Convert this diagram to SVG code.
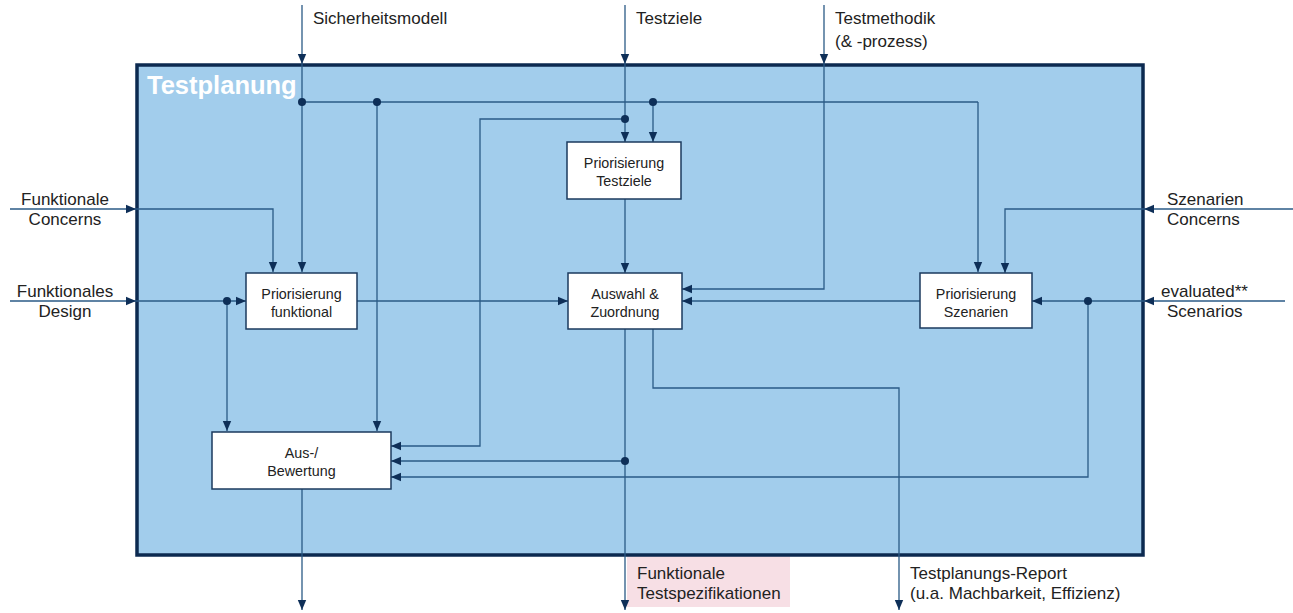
<svg xmlns="http://www.w3.org/2000/svg" width="1293" height="613" viewBox="0 0 1293 613">
  <defs>
    <marker id="arr" markerUnits="userSpaceOnUse" markerWidth="10" markerHeight="10" viewBox="0 0 10 10" refX="10" refY="5" orient="auto">
      <path d="M0,0.8 L10,5 L0,9.2 Z" fill="#0e2f58"/>
    </marker>
    <style>
      .lbl { font-family: "Liberation Sans", Arial, sans-serif; font-size: 17px; fill: #222; }
      .box { fill: #ffffff; stroke: #1b3a5e; stroke-width: 1.5; }
      .btxt { font-family: "Liberation Sans", Arial, sans-serif; font-size: 14.3px; fill: #222; text-anchor: middle; }
      .c { fill: none; stroke: #2a5a86; stroke-width: 1.3; }
      .ca { fill: none; stroke: #2a5a86; stroke-width: 1.3; marker-end: url(#arr); }
      .dot { fill: #0e2f58; }
    </style>
  </defs>

  <!-- output label background -->
  <rect x="627" y="556" width="163" height="51" fill="#f7dfe5"/>

  <!-- main process frame -->
  <g id="testplanung">
    <rect x="137" y="65" width="1006" height="490" fill="#a2cdec" stroke="#0c2a50" stroke-width="3.5"/>
    <text x="147" y="94" font-family="Liberation Sans, Arial, sans-serif" font-weight="bold" font-size="25.5" fill="#ffffff">Testplanung</text>
  </g>

  <g id="connectors">
    <!-- external inputs from top -->
    <path class="ca" d="M302,5 V64"/>
    <path class="ca" d="M302,64 V272"/>
    <path class="c" d="M302,102 H978"/>
    <path class="ca" d="M978,102 V272"/>
    <path class="ca" d="M377,102 V431"/>
    <path class="ca" d="M653,102 V142"/>

    <path class="ca" d="M625,5 V64"/>
    <path class="ca" d="M625,64 V142"/>
    <path class="ca" d="M625,119 H480 V446 H391"/>

    <path class="ca" d="M824,5 V64"/>
    <path class="ca" d="M824,64 V289 H682"/>

    <path class="ca" d="M625,199 V273"/>

    <!-- left inputs -->
    <path class="ca" d="M10,209 H136"/>
    <path class="ca" d="M136,209 H273 V272"/>
    <path class="ca" d="M10,301 H136"/>
    <path class="ca" d="M136,301 H246"/>
    <path class="ca" d="M227,301 V431"/>

    <path class="ca" d="M357,301 H568"/>
    <path class="ca" d="M920,301 H682"/>

    <!-- right inputs -->
    <path class="ca" d="M1293,209 H1144"/>
    <path class="ca" d="M1144,209 H1005 V273"/>
    <path class="ca" d="M1285,301 H1144"/>
    <path class="ca" d="M1144,301 H1032"/>
    <path class="ca" d="M1088,301 V477 H391"/>

    <!-- outputs -->
    <path class="ca" d="M625,329 V610"/>
    <path class="ca" d="M625,461 H391"/>
    <path class="ca" d="M653,329 V388 H899 V610"/>
    <path class="ca" d="M302,489 V610"/>

    <!-- junctions -->
    <circle class="dot" cx="302" cy="102" r="4"/>
    <circle class="dot" cx="377" cy="102" r="4"/>
    <circle class="dot" cx="653" cy="102" r="4"/>
    <circle class="dot" cx="625" cy="119" r="4"/>
    <circle class="dot" cx="227" cy="301" r="4"/>
    <circle class="dot" cx="1088" cy="301" r="4"/>
    <circle class="dot" cx="625" cy="461" r="4"/>
  </g>

  <g id="prio-testziele">
    <rect class="box" x="567" y="142" width="114" height="57"/>
    <text class="btxt" x="624" y="168">Priorisierung</text>
    <text class="btxt" x="624" y="186">Testziele</text>
  </g>

  <g id="prio-funktional">
    <rect class="box" x="246" y="273" width="111" height="56"/>
    <text class="btxt" x="301.5" y="299">Priorisierung</text>
    <text class="btxt" x="301.5" y="317">funktional</text>
  </g>

  <g id="auswahl">
    <rect class="box" x="568" y="273" width="114" height="56"/>
    <text class="btxt" x="625" y="299">Auswahl &amp;</text>
    <text class="btxt" x="625" y="317">Zuordnung</text>
  </g>

  <g id="prio-szenarien">
    <rect class="box" x="920" y="273" width="112" height="55"/>
    <text class="btxt" x="976" y="299">Priorisierung</text>
    <text class="btxt" x="976" y="317">Szenarien</text>
  </g>

  <g id="bewertung">
    <rect class="box" x="212" y="432" width="179" height="57"/>
    <text class="btxt" x="301.5" y="458">Aus-/</text>
    <text class="btxt" x="301.5" y="476">Bewertung</text>
  </g>

  <!-- interface labels -->
  <g id="labels">
    <text class="lbl" x="313" y="24">Sicherheitsmodell</text>
    <text class="lbl" x="636" y="24">Testziele</text>
    <text class="lbl" x="835" y="24">Testmethodik</text>
    <text class="lbl" x="835" y="47">(&amp; -prozess)</text>
    <text class="lbl" x="65" y="205" text-anchor="middle">Funktionale</text>
    <text class="lbl" x="65" y="225" text-anchor="middle">Concerns</text>
    <text class="lbl" x="65" y="297" text-anchor="middle">Funktionales</text>
    <text class="lbl" x="65" y="317" text-anchor="middle">Design</text>
    <text class="lbl" x="1167" y="205">Szenarien</text>
    <text class="lbl" x="1167" y="225">Concerns</text>
    <text class="lbl" x="1161" y="297">evaluated**</text>
    <text class="lbl" x="1167" y="317">Scenarios</text>
    <text class="lbl" x="637" y="579">Funktionale</text>
    <text class="lbl" x="637" y="599">Testspezifikationen</text>
    <text class="lbl" x="910" y="579">Testplanungs-Report</text>
    <text class="lbl" x="910" y="599">(u.a. Machbarkeit, Effizienz)</text>
  </g>
</svg>
